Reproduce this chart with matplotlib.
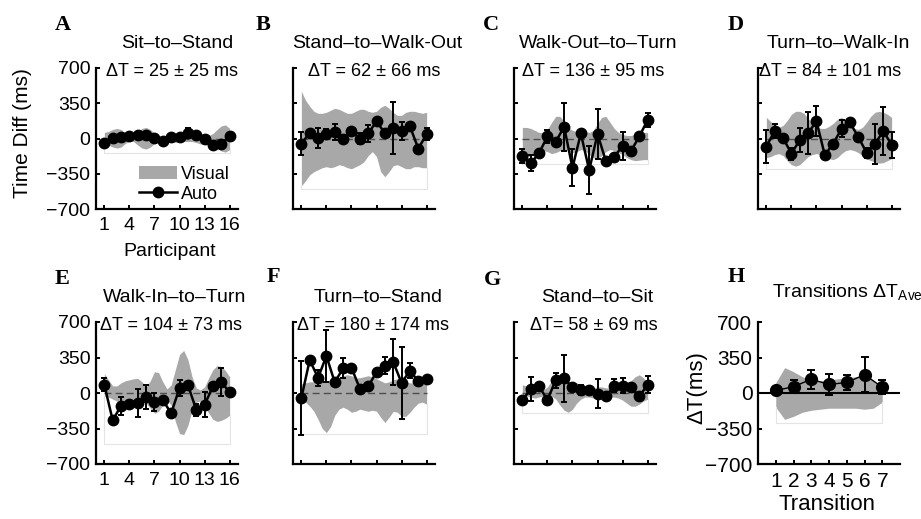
import numpy as np
import matplotlib.pyplot as plt
from matplotlib.patches import Patch
from matplotlib.lines import Line2D

plt.rcParams['font.family'] = ['Liberation Sans', 'DejaVu Sans']
plt.rcParams['mathtext.fontset'] = 'custom'
plt.rcParams['mathtext.rm'] = 'Liberation Sans'

W, H = 921, 519

# ---- data ----
participants = np.arange(1, 17)
vis_x = np.arange(1, 16.5, 0.5)          # band read every half participant
transitions = np.arange(1, 8)
vis_x_h = np.arange(1, 7.5, 0.5)

titles = ["Sit–to–Stand", "Stand–to–Walk-Out", "Walk-Out–to–Turn", "Turn–to–Walk-In",
          "Walk-In–to–Turn", "Turn–to–Stand", "Stand–to–Sit"]
letters = ["A", "B", "C", "D", "E", "F", "G", "H"]

# mean and SD of the transitions (panel H and the ΔT labels)
mean_dt = [25, 62, 136, 84, 104, 180, 58]
sd_dt = [25, 66, 95, 101, 73, 174, 69]

auto_a = [-40, 5, 15, 20, 30, 35, 5, -25, 15, 15, 55, 35, 0, -65, -55, 25]
err_a = [15, 15, 15, 15, 15, 15, 15, 15, 15, 20, 45, 20, 15, 35, 30, 15]
hi_a = [60, 70, 90, 100, 90, 50, 25, 35, 70, 100, 110, 90, 50, 25, 20, 25,
        35, 40, 40, 35, 30, 30, 35, 40, 35, 30, 50, 90, 125, 135, 100]
lo_a = [-55, -65, -85, -95, -85, -50, -25, -30, -65, -95, -105, -85, -50, -25, -20, -25,
        -35, -40, -35, -30, -30, -30, -40, -55, -60, -45, -55, -90, -125, -135, -110]

auto_b = [-50, 55, 5, 45, 65, -5, 70, 0, 50, 170, 53, 103, 77, 120, -100, 43]
err_b = [110, 20, 100, 50, 80, 20, 20, 50, 85, 20, 20, 257, 90, 20, 20, 60]
hi_b = [470, 380, 320, 270, 250, 250, 260, 280, 300, 290, 270, 250, 250, 270, 290, 290,
        270, 260, 270, 310, 330, 300, 260, 230, 230, 260, 270, 270, 260, 250, 260]
lo_b = [-470, -420, -360, -330, -310, -290, -280, -290, -280, -260, -270, -290, -300, -280, -260, -230,
        -170, -130, -180, -330, -380, -330, -270, -260, -280, -300, -300, -280, -280, -290, -290]

auto_c = [-175, -245, -145, 20, -30, 115, -290, 50, -315, 45, -225, -180, -75, -125, 20, 185]
err_c = [70, 80, 20, 65, 20, 235, 185, 20, 240, 250, 20, 20, 140, 20, 20, 70]
hi_c = [110, 110, 100, 80, 60, 60, 90, 160, 220, 220, 170, 110, 80, 70, 80, 70,
        60, 80, 150, 210, 220, 160, 100, 60, 40, 30, 30, 40, 50, 60, 60]
lo_c = [-200, -190, -170, -150, -130, -120, -130, -150, -140, -120, -110, -120, -140, -130, -110, -120,
        -160, -190, -200, -170, -130, -110, -120, -140, -160, -190, -210, -220, -215, -210, -210]

auto_d = [-80, 75, 5, -150, -15, 55, 170, -165, -50, 95, 160, 15, -140, -55, 75, -65]
err_d = [165, 70, 20, 60, 120, 210, 150, 20, 20, 85, 20, 20, 50, 200, 235, 130]
hi_d = [210, 170, 130, 110, 130, 180, 240, 270, 270, 250, 200, 150, 120, 100, 100, 120,
        150, 190, 210, 180, 130, 100, 90, 110, 160, 220, 260, 270, 260, 240, 210]
lo_d = [-190, -180, -160, -150, -170, -220, -260, -275, -260, -220, -180, -160, -150, -160, -180, -200,
        -210, -190, -150, -120, -110, -120, -140, -170, -200, -220, -235, -245, -240, -220, -200]

auto_e = [80, -270, -125, -110, -100, -40, -90, -70, -200, 50, 80, -165, -115, 65, 110, 5]
err_e = [65, 20, 90, 20, 140, 115, 90, 20, 20, 80, 20, 60, 125, 20, 140, 20]
hi_e = [190, 130, 70, 70, 100, 120, 130, 140, 145, 110, 60, 120, 210, 200, 110, 40,
        80, 230, 380, 420, 330, 160, 50, 30, 60, 150, 230, 270, 260, 220, 160]
lo_e = [-30, -40, -60, -80, -100, -120, -130, -130, -110, -90, -100, -150, -200, -180, -120, -70,
        -120, -280, -400, -410, -320, -170, -90, -80, -130, -200, -260, -280, -270, -250, -220]

auto_f = [-50, 325, 150, 365, 105, 245, 250, 43, 65, 207, 270, 305, 100, 220, 115, 140]
err_f = [365, 20, 80, 255, 20, 100, 20, 20, 20, 20, 85, 230, 355, 75, 20, 20]
hi_f = [90, 100, 110, 110, 100, 110, 120, 130, 130, 150, 170, 180, 170, 150, 150, 160,
        170, 160, 140, 120, 100, 110, 130, 140, 130, 110, 100, 100, 110, 120, 120]
lo_f = [-60, -90, -130, -180, -260, -350, -390, -330, -220, -160, -140, -160, -190, -180, -160, -170,
        -180, -170, -180, -240, -290, -240, -180, -190, -230, -230, -190, -140, -100, -90, -110]

auto_g = [-73, 40, 65, -67, 127, 143, 57, 33, 27, -5, -33, 73, 73, 57, -33, 83]
err_g = [20, 115, 20, 20, 75, 230, 20, 50, 20, 140, 20, 65, 75, 20, 20, 80]
hi_g = [80, 70, 60, 50, 30, 30, 60, 120, 150, 140, 110, 100, 110, 100, 80, 60,
        50, 50, 60, 60, 50, 50, 60, 70, 80, 90, 120, 160, 180, 150, 100]
lo_g = [-20, -30, -40, -50, -40, -30, -20, -30, -60, -120, -170, -190, -160, -100, -60, -40,
        -40, -50, -60, -60, -50, -40, -40, -50, -70, -100, -130, -130, -110, -80, -60]

hi_h = [100, 250, 210, 160, 130, 120, 130, 140, 150, 160, 170, 130, 40]
lo_h = [-140, -260, -230, -190, -170, -160, -150, -150, -150, -150, -160, -150, -90]

autos = [auto_a, auto_b, auto_c, auto_d, auto_e, auto_f, auto_g]
errs = [err_a, err_b, err_c, err_d, err_e, err_f, err_g]
his = [hi_a, hi_b, hi_c, hi_d, hi_e, hi_f, hi_g]
los = [lo_a, lo_b, lo_c, lo_d, lo_e, lo_f, lo_g]
baselines = [-145, -500, -250, -307, -500, -407, -200]
dt_labels = ["ΔT = %d ± %d ms" % (m, s) for m, s in zip(mean_dt, sd_dt)]
dt_labels[6] = "ΔT= %d ± %d ms" % (mean_dt[6], sd_dt[6])

# ---- layout (pixels) ----
band_color = "#a8a8a8"
col_left = [96, 293, 514, 758]
row_top = [68, 322]
row_bot = [209, 464]
title_pos = [(177, 44), (377, 44), (598, 44), (838, 44),
             (175, 297), (378, 297), (597, 297)]
dt_pos = [(106, 71), (308, 71), (522, 71), (759, 71),
          (100, 326), (297, 326), (530, 326)]
letter_pos = [(63, 25), (263, 25), (491, 25), (736, 25),
              (62, 279), (273, 277), (492, 280), (736, 277)]

fig = plt.figure(figsize=(W / 100, H / 100), dpi=100)


def ftext(x, y, s, **kw):
    fig.text(x / W, 1 - y / H, s, **kw)


def style_axis(ax, xmax, xticks, show_labels):
    ax.set_ylim(-700, 700)
    ax.set_xlim(0, xmax)
    ax.set_yticks([-700, -350, 0, 350, 700])
    ax.set_xticks(xticks)
    for s in ["top", "right"]:
        ax.spines[s].set_visible(False)
    for s in ["left", "bottom"]:
        ax.spines[s].set_linewidth(1.6)
    ax.tick_params(direction="in", length=3, width=1.4, labelsize=14, pad=4)
    ax.tick_params(axis="x", pad=6)
    if not show_labels:
        ax.set_xticklabels([])
        ax.set_yticklabels([])
    ax.patch.set_alpha(0)


for i in range(7):
    row, col = divmod(i, 4)
    left = col_left[col]
    ax = fig.add_axes([left / W, 1 - row_bot[row] / H, 142 / W,
                       (row_bot[row] - row_top[row]) / H])
    ax.fill_between(vis_x, los[i], his[i], color=band_color, lw=0)
    b = baselines[i]
    ax.plot([1, 1, 16, 16], [los[i][0], b, b, los[i][-1]], color="#e4e4e4", lw=0.8)
    ax.plot([1, 16], [0, 0], color="0.3", lw=1, dashes=(5, 3))
    ax.errorbar(participants, autos[i], yerr=errs[i], fmt="none", ecolor="k",
                elinewidth=1.4, capsize=2.5, capthick=1.4)
    ax.plot(participants, autos[i], color="k", lw=1.8, marker="o", ms=7.5, clip_on=False)
    style_axis(ax, 17, [1, 4, 7, 10, 13, 16], col == 0)
    ftext(*title_pos[i], titles[i], fontsize=14, ha="center", va="center")
    ftext(*dt_pos[i], dt_labels[i], fontsize=13, ha="left", va="center")
    if i == 0:
        ax.legend(handles=[Patch(facecolor=band_color, edgecolor="none", label="Visual"),
                           Line2D([], [], color="k", lw=1.8, marker="o", ms=7.5, label="Auto")],
                  loc="upper left", bbox_to_anchor=(0.24, 0.37), frameon=False,
                  fontsize=13, borderpad=0, handlelength=2.1, handletextpad=0.2,
                  labelspacing=0.15)

# panel H
ax = fig.add_axes([758 / W, 1 - row_bot[1] / H, 142 / W, (row_bot[1] - row_top[1]) / H])
ax.fill_between(vis_x_h, lo_h, hi_h, color=band_color, lw=0)
ax.plot([1, 1, 7, 7], [lo_h[0], -300, -300, lo_h[-1]], color="#e4e4e4", lw=0.8)
ax.axhline(0, color="k", lw=1.5)
ax.errorbar(transitions, mean_dt, yerr=sd_dt, fmt="none", ecolor="k",
            elinewidth=1.4, capsize=3, capthick=1.4)
ax.plot(transitions, mean_dt, color="k", lw=1, marker="o", ms=8.5, clip_on=False)
style_axis(ax, 8, list(transitions), True)
ax.tick_params(labelsize=15)

ftext(772, 293, r"Transitions ΔT$_{\mathrm{Ave}}$", fontsize=14, ha="left", va="center")
ftext(697, 388, "ΔT(ms)", fontsize=16, rotation=90, ha="center", va="center")
ftext(827, 505, "Transition", fontsize=16, ha="center", va="center")
ftext(22, 133, "Time Diff (ms)", fontsize=15, rotation=90, ha="center", va="center")
ftext(170, 252, "Participant", fontsize=14, ha="center", va="center")

for L, (x, y) in zip(letters, letter_pos):
    ftext(x, y, L, fontsize=16, fontweight="bold", family="Liberation Serif",
          ha="center", va="center")

fig.savefig("out.png", dpi=100)
